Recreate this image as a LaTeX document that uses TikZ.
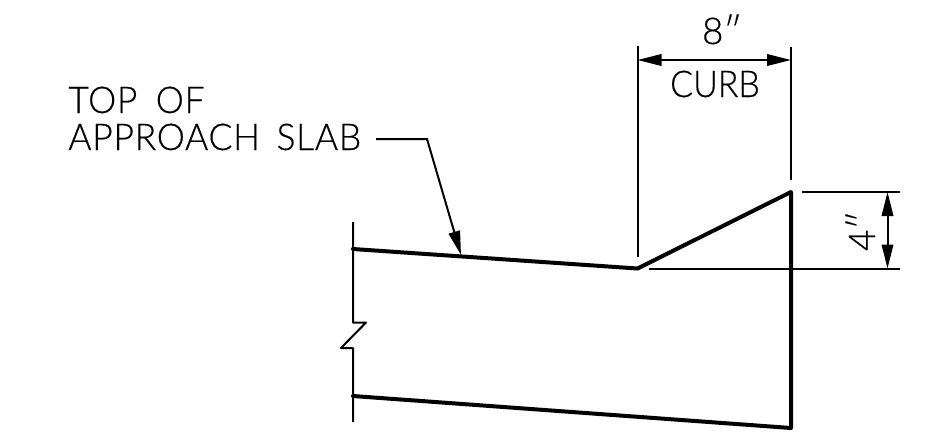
\documentclass[tikz,border=0pt]{standalone}
\usepackage{fontspec}
\setmainfont{Lato Light}[FakeBold=0.4]
\usetikzlibrary{arrows.meta}
\tikzset{
  heavyline/.style={line width=0.08cm, line cap=round, line join=round},
  thinline/.style={line width=0.04cm},
  dimline/.style={thinline, {Triangle[length=0.48cm,width=0.23cm]}-{Triangle[length=0.48cm,width=0.23cm]}},
  leaderline/.style={thinline, -{Triangle[length=0.48cm,width=0.23cm]}},
  cadtext/.style={inner sep=0pt, font=\fontsize{21}{21}\selectfont},
}
\begin{document}
\begin{tikzpicture}[x=0.02cm, y=-0.02cm]
	\useasboundingbox (0, 0) rectangle (949, 444);
	
	% slab outline
	\draw[heavyline] (353, 249) -- (637.5, 268.5) -- (791, 192) -- (791, 428) -- (353, 396);
	
	% break line
	\draw[thinline, line join=round] (353, 222) -- (353, 322.5) -- (366, 322.5) -- (341, 348) -- (353, 348) -- (353, 422);
	
	% curb width
	\draw[thinline] (637.5, 46) -- (637.5, 257);
	\draw[thinline] (791, 47) -- (791, 180);
	\draw[dimline] (637.5, 60) -- (791, 60);
	\node[cadtext, anchor=base] (widthlabel) at (722, 44) {8″};
	\node[cadtext, anchor=base] (curblabel) at (715, 97) {\addfontfeature{FakeStretch=0.92}CURB};
	
	% curb height
	\draw[thinline] (802, 192) -- (900, 192);
	\draw[thinline] (649, 268.5) -- (900, 268.5);
	\draw[dimline] (887.5, 192) -- (887.5, 268.5);
	\node[cadtext, rotate=90, anchor=base] (heightlabel) at (875, 231) {4″};
	
	% leader
	\node[cadtext, anchor=base west] (toplabel) at (68, 113) {\addfontfeature{LetterSpace=2,FakeStretch=0.96}TOP\hspace{0.5em}OF};
	\node[cadtext, anchor=base west] (slablabel) at (68, 150) {\addfontfeature{LetterSpace=2,FakeStretch=0.96}APPROACH\hspace{0.45em}SLAB};
	\draw[leaderline] (376, 139) -- (427, 139) -- (461, 255);
\end{tikzpicture}
\end{document}
